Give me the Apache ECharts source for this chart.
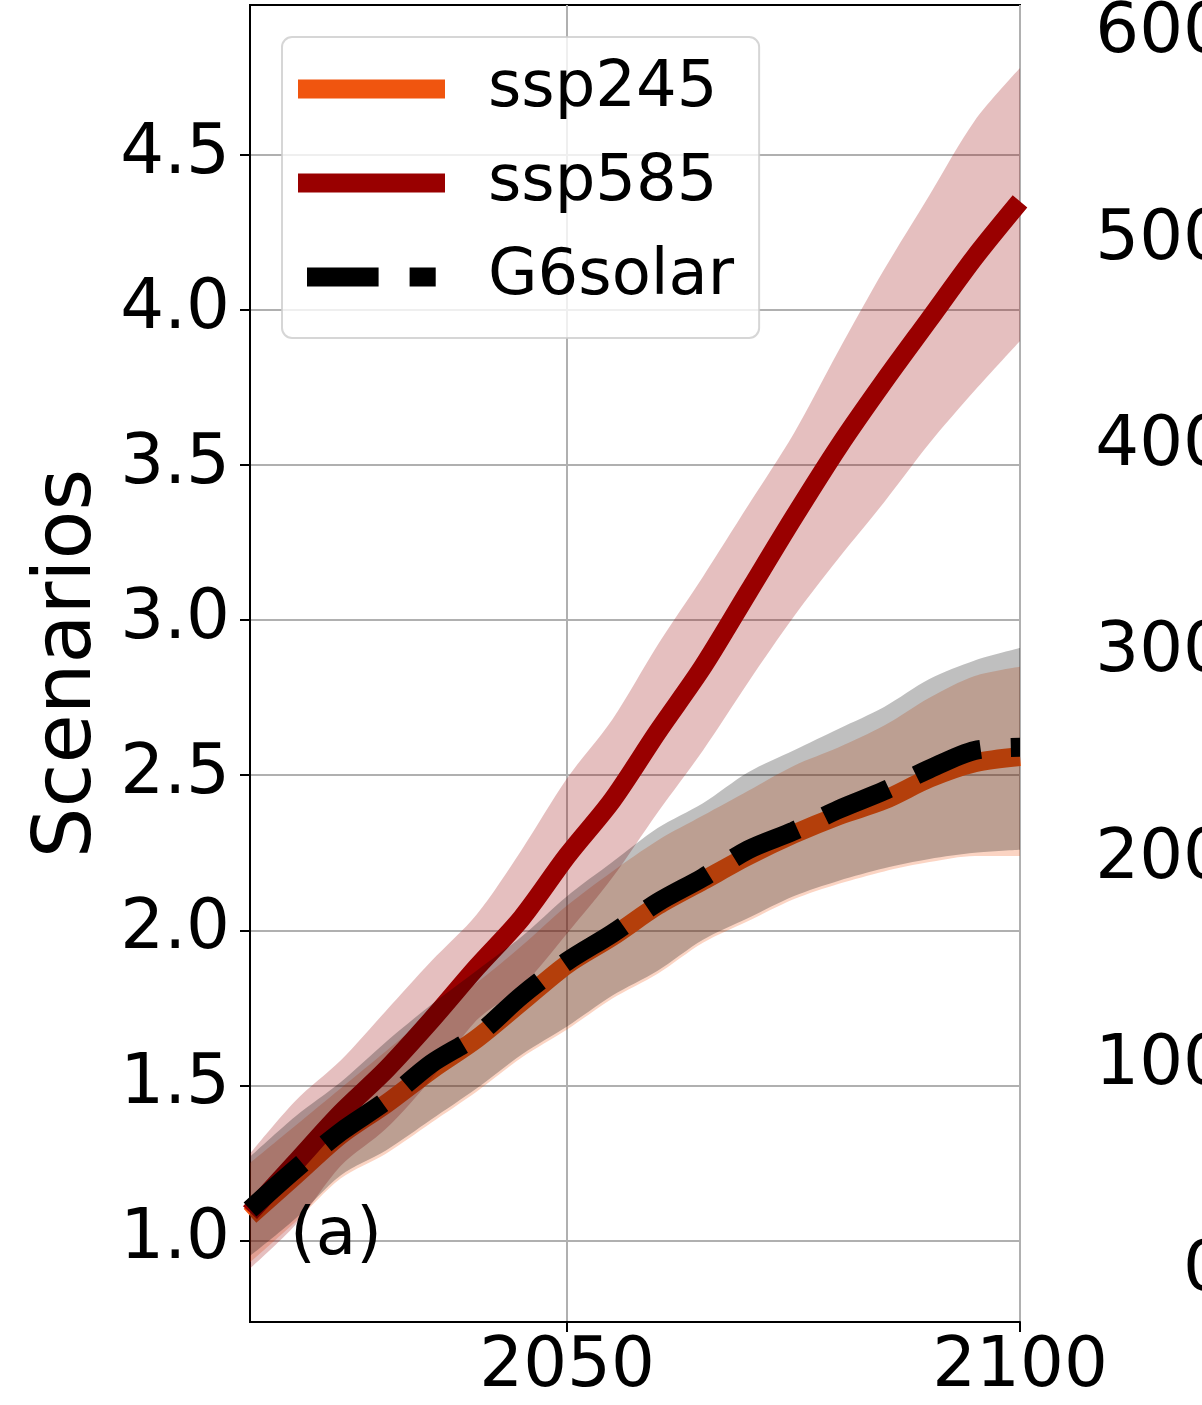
<!DOCTYPE html>
<html>
<head>
<meta charset="utf-8">
<script src="https://cdn.jsdelivr.net/npm/echarts@6/dist/echarts.min.js"></script>
<style>
html,body{margin:0;padding:0;background:#fff;}
#chart{width:1202px;height:1405px;}
</style>
</head>
<body>
<div id="chart"></div>
<script>
// ---- data ----
const years = [2015,2020,2025,2030,2035,2040,2045,2050,2055,2060,2065,2070,2075,2080,2085,2090,2095,2100];

const ssp245Mean  = [1.08,1.21,1.34,1.44,1.55,1.65,1.77,1.89,1.98,2.08,2.16,2.24,2.31,2.37,2.42,2.49,2.54,2.56];
const ssp245Lower = [0.93,1.06,1.20,1.28,1.38,1.48,1.59,1.68,1.78,1.86,1.96,2.03,2.10,2.15,2.19,2.22,2.24,2.24];
const ssp245Upper = [1.25,1.37,1.49,1.61,1.73,1.83,1.95,2.08,2.19,2.29,2.37,2.45,2.53,2.59,2.66,2.75,2.82,2.85];

const ssp585Mean  = [1.09,1.25,1.41,1.55,1.71,1.88,2.04,2.24,2.42,2.64,2.85,3.09,3.33,3.56,3.77,3.97,4.17,4.35];
const ssp585Lower = [0.91,1.05,1.24,1.36,1.52,1.71,1.82,1.99,2.17,2.38,2.58,2.80,3.01,3.20,3.38,3.57,3.74,3.90];
const ssp585Upper = [1.28,1.45,1.58,1.74,1.90,2.05,2.26,2.49,2.68,2.92,3.14,3.37,3.60,3.87,4.13,4.37,4.61,4.78];

const g6Mean  = [1.10,1.23,1.35,1.45,1.57,1.66,1.79,1.90,1.99,2.09,2.17,2.26,2.32,2.39,2.45,2.52,2.58,2.59];
const g6Lower = [0.95,1.07,1.21,1.29,1.39,1.49,1.60,1.69,1.79,1.87,1.97,2.04,2.11,2.16,2.20,2.23,2.25,2.26];
const g6Upper = [1.27,1.40,1.51,1.64,1.76,1.87,1.98,2.11,2.22,2.33,2.41,2.51,2.58,2.65,2.72,2.81,2.87,2.91];

const xTicks = [2050, 2100];
const yTicks = [1.0, 1.5, 2.0, 2.5, 3.0, 3.5, 4.0, 4.5];
const rightTicks = [0, 100, 200, 300, 400, 500, 600];

// ---- helpers ----
const FONT = 'DejaVu Sans';
const diff = (hi, lo) => hi.map((h, i) => +(h - lo[i]).toFixed(4));
const SM = 0.3;
const isXTick = (idx, val) => xTicks.indexOf(+val) >= 0;

function bandSeries(name, lo, hi, color, z) {
  return [
    {
      name: name + '_lo', type: 'line', stack: name, data: lo, z: z,
      symbol: 'none', smooth: SM, silent: true,
      lineStyle: { opacity: 0 }, xAxisIndex: 0, yAxisIndex: 0
    },
    {
      name: name + '_band', type: 'line', stack: name, data: diff(hi, lo), z: z,
      symbol: 'none', smooth: SM, silent: true,
      lineStyle: { opacity: 0 }, areaStyle: { color: color, opacity: 1 },
      xAxisIndex: 0, yAxisIndex: 0
    }
  ];
}
function meanSeries(name, arr, color, z, type) {
  return {
    name: name, type: 'line', data: arr, symbol: 'none', smooth: SM, z: z,
    lineStyle: { color: color, width: 19, type: type || 'solid', cap: 'butt' },
    itemStyle: { color: color },
    xAxisIndex: 0, yAxisIndex: 0
  };
}

const chart = echarts.init(document.getElementById('chart'), null, { renderer: 'canvas' });

const option = {
  animation: false,
  backgroundColor: '#ffffff',
  textStyle: { fontFamily: FONT },
  grid: [
    { left: 250, top: 5, right: 182, bottom: 83, show: true, borderColor: '#000', borderWidth: 2, backgroundColor: 'transparent' },
    { left: 1249, top: 5, width: 100, bottom: 83, show: false }
  ],
  xAxis: [
    {
      type: 'category', gridIndex: 0, data: years.map(String), boundaryGap: false,
      axisLine: { show: true, lineStyle: { color: '#000', width: 2 } },
      axisTick: { show: true, length: 10, lineStyle: { color: '#000', width: 2 }, interval: isXTick },
      axisLabel: { show: true, interval: isXTick, fontSize: 69, color: '#000', fontFamily: FONT, margin: 12 },
      splitLine: { show: true, interval: isXTick, lineStyle: { color: '#b0b0b0', width: 2 } }
    },
    { type: 'value', gridIndex: 1, min: 0, max: 1, show: false }
  ],
  yAxis: [
    {
      type: 'value', gridIndex: 0, min: 0.7374, max: 4.983,
      name: 'Scenarios', nameLocation: 'middle', nameGap: 129,
      nameTextStyle: { fontSize: 80, color: '#000', fontFamily: FONT },
      axisLine: { show: true, lineStyle: { color: '#000', width: 2 } },
      axisTick: { show: true, length: 10, lineStyle: { color: '#000', width: 2 }, customValues: yTicks },
      axisLabel: { show: true, customValues: yTicks, fontSize: 69, color: '#000', fontFamily: FONT, margin: 20,
                   formatter: v => v.toFixed(1) },
      splitLine: { show: true, lineStyle: { color: '#b0b0b0', width: 2 } }
    },
    {
      type: 'value', gridIndex: 1, min: -24.1, max: 605.3,
      axisLine: { show: false }, axisTick: { show: false }, splitLine: { show: false },
      axisLabel: { show: true, customValues: rightTicks, fontSize: 69, color: '#000', fontFamily: FONT, margin: 22,
                   formatter: v => String(v) }
    }
  ],
  legend: {
    orient: 'vertical', left: 282, top: 37, z: 20,
    padding: [18, 25, 27, 16],
    itemWidth: 147, itemHeight: 19, itemGap: 26,
    backgroundColor: 'rgba(255,255,255,0.8)',
    borderColor: 'rgba(204,204,204,0.8)', borderWidth: 2, borderRadius: 10,
    itemStyle: { borderWidth: 0 },
    textStyle: { fontSize: 64, lineHeight: 64, color: '#000', fontFamily: FONT, padding: [4, 0, 0, 38] },
    selectedMode: false,
    data: [
      { name: 'ssp245', icon: 'rect' },
      { name: 'ssp585', icon: 'rect' },
      { name: 'G6solar', icon: 'path://M0,0h0.01v0.01h-0.01z M147,18.99h-0.01v0.01h0.01z M9,0H80.6V19H9z M111.6,0H137.7V19H111.6z' }
    ]
  },
  graphic: [
    { type: 'text', left: 290, top: 1204, z: 100,
      style: { text: '(a)', font: '66px "DejaVu Sans"', fill: '#000' } }
  ],
  series: [
    ...bandSeries('b245', ssp245Lower, ssp245Upper, 'rgba(240,85,15,0.25)', 2),
    meanSeries('ssp245', ssp245Mean, '#f0550f', 3),
    ...bandSeries('b585', ssp585Lower, ssp585Upper, 'rgba(153,0,0,0.25)', 4),
    meanSeries('ssp585', ssp585Mean, '#990000', 5),
    ...bandSeries('bg6', g6Lower, g6Upper, 'rgba(0,0,0,0.25)', 6),
    meanSeries('G6solar', g6Mean, '#000000', 7, [70, 30])
  ]
};
chart.setOption(option);
</script>
</body>
</html>
